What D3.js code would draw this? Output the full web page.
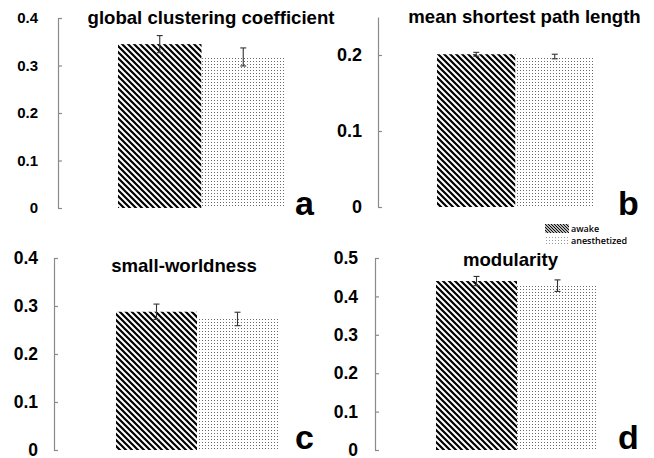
<!DOCTYPE html>
<html>
<head>
<meta charset="utf-8">
<script src="https://cdn.jsdelivr.net/npm/d3@7"></script>
<style>
  html, body { margin: 0; padding: 0; background: #fff; }
  svg { display: block; }
</style>
</head>
<body>
<svg id="chart" width="654" height="458"></svg>
<script>
// Network metrics, awake vs anesthetized (mean ± SE)
const groups = ["awake", "anesthetized"];
const metrics = ["global clustering coefficient", "mean shortest path length", "small-worldness", "modularity"];
const panelLetters = ["a", "b", "c", "d"];
const awakeMean = [0.345, 0.201, 0.288, 0.440];
const awakeErr = [0.018, 0.0025, 0.016, 0.012];
const anesMean = [0.318, 0.198, 0.273, 0.428];
const anesErr = [0.019, 0.003, 0.014, 0.015];
const yMax = [0.4, 0.25, 0.4, 0.5];
const tickValues = [
  [0, 0.1, 0.2, 0.3, 0.4],
  [0, 0.1, 0.2],
  [0, 0.1, 0.2, 0.3, 0.4],
  [0, 0.1, 0.2, 0.3, 0.4, 0.5]
];

// Pixel layout of the four panels
const layout = [
  { axisX: 58,  x0: 118, x1: 285, yBottom: 208, yTop: 18,  tickFont: 15,   pad: 20, titleX: 211,   titleY: 24,  letterX: 295, letterY: 215 },
  { axisX: 378, x0: 437, x1: 594, yBottom: 207, yTop: 17,  tickFont: 18,   pad: 16, titleX: 524.5, titleY: 23,  letterX: 618, letterY: 215 },
  { axisX: 54,  x0: 116, x1: 278, yBottom: 450, yTop: 258, tickFont: 17.5, pad: 16, titleX: 184,   titleY: 272, letterX: 295, letterY: 449 },
  { axisX: 375, x0: 436, x1: 598, yBottom: 450, yTop: 258, tickFont: 17.5, pad: 17, titleX: 510.5, titleY: 266, letterX: 618, letterY: 449 }
];

const svg = d3.select("#chart");
const defs = svg.append("defs");

// Diagonal hatch for the awake bars
function hatch(id, size, sw) {
  const p = defs.append("pattern")
    .attr("id", id).attr("patternUnits", "userSpaceOnUse")
    .attr("width", size).attr("height", size);
  p.append("rect").attr("width", size).attr("height", size).attr("fill", "#fff");
  p.append("path")
    .attr("d", `M0,0L${size},${size}M${-size / 2},${size / 2}L${size / 2},${size * 1.5}M${size / 2},${-size / 2}L${size * 1.5},${size / 2}`)
    .attr("stroke", "#000").attr("stroke-width", sw);
}
hatch("hatchBar", 6, 2.2);
hatch("hatchKey", 3, 1.1);

// Fine dot grid for the anesthetized bars
function dots(id, size, color) {
  const p = defs.append("pattern")
    .attr("id", id).attr("patternUnits", "userSpaceOnUse")
    .attr("width", size).attr("height", size);
  p.append("rect").attr("width", size).attr("height", size).attr("fill", "#fff");
  p.append("rect").attr("x", 1).attr("y", 1).attr("width", 1).attr("height", 1).attr("fill", color);
}
dots("dotBar", 3, "#6a6a6a");
dots("dotKey", 3, "#9a9a9a");

const fills = { awake: "url(#hatchBar)", anesthetized: "url(#dotBar)" };
const fmt = d => d === 0 ? "0" : d3.format(".1f")(d);

metrics.forEach((name, i) => {
  const L = layout[i];
  const x = d3.scaleBand().domain(groups).range([L.x0, L.x1]).padding(0);
  const y = d3.scaleLinear().domain([0, yMax[i]]).range([L.yBottom, L.yTop]);
  const g = svg.append("g");

  const rows = [
    { group: "awake", mean: awakeMean[i], err: awakeErr[i] },
    { group: "anesthetized", mean: anesMean[i], err: anesErr[i] }
  ];

  // Axis
  const axis = d3.axisLeft(y)
    .tickValues(tickValues[i])
    .tickFormat(fmt)
    .tickSizeInner(-4)
    .tickSizeOuter(0)
    .tickPadding(L.pad);
  const ag = g.append("g").attr("transform", `translate(${L.axisX},0)`).call(axis);
  ag.select(".domain").attr("stroke", "#8a8a8a").attr("stroke-width", 1.2);
  ag.selectAll(".tick line").attr("stroke", "#8a8a8a").attr("stroke-width", 1.2);
  ag.selectAll(".tick text")
    .attr("fill", "#000")
    .style("font-family", "'Liberation Sans', Arial, sans-serif")
    .style("font-weight", "bold")
    .style("font-size", L.tickFont + "px");

  // Bars
  g.selectAll("rect.bar").data(rows).join("rect")
    .attr("class", "bar")
    .attr("x", d => x(d.group))
    .attr("width", x.bandwidth())
    .attr("y", d => y(d.mean))
    .attr("height", d => y(0) - y(d.mean))
    .attr("fill", d => fills[d.group]);

  // Error bars
  const eb = g.selectAll("g.err").data(rows).join("g").attr("class", "err")
    .attr("stroke", "#333").attr("stroke-width", 1.1);
  const cx = d => x(d.group) + x.bandwidth() / 2;
  eb.append("line")
    .attr("x1", cx).attr("x2", cx)
    .attr("y1", d => y(d.mean + d.err)).attr("y2", d => y(d.mean - d.err));
  eb.append("line")
    .attr("x1", d => cx(d) - 3).attr("x2", d => cx(d) + 3)
    .attr("y1", d => y(d.mean + d.err)).attr("y2", d => y(d.mean + d.err));
  eb.append("line")
    .attr("x1", d => cx(d) - 3).attr("x2", d => cx(d) + 3)
    .attr("y1", d => y(d.mean - d.err)).attr("y2", d => y(d.mean - d.err));

  // Title
  g.append("text")
    .attr("x", L.titleX).attr("y", L.titleY)
    .attr("text-anchor", "middle")
    .style("font-family", "'Liberation Sans', Arial, sans-serif")
    .style("font-weight", "bold")
    .style("font-size", "18.6px")
    .text(name);

  // Panel letter
  g.append("text")
    .attr("x", L.letterX).attr("y", L.letterY)
    .style("font-family", "'Liberation Sans', Arial, sans-serif")
    .style("font-weight", "bold")
    .style("font-size", "34px")
    .text(panelLetters[i]);
});

// Legend
const keyFills = { awake: "url(#hatchKey)", anesthetized: "url(#dotKey)" };
const legend = svg.append("g").attr("transform", "translate(545,224)");
const items = legend.selectAll("g").data(groups).join("g")
  .attr("transform", (d, k) => `translate(0,${k * 12})`);
items.append("rect")
  .attr("width", 24).attr("height", 9)
  .attr("fill", d => keyFills[d]);
items.append("text")
  .attr("x", 26).attr("y", 8)
  .style("font-family", "'Open Sans', sans-serif")
  .style("font-weight", "600")
  .style("font-size", "9px")
  .text(d => d);
</script>
</body>
</html>
